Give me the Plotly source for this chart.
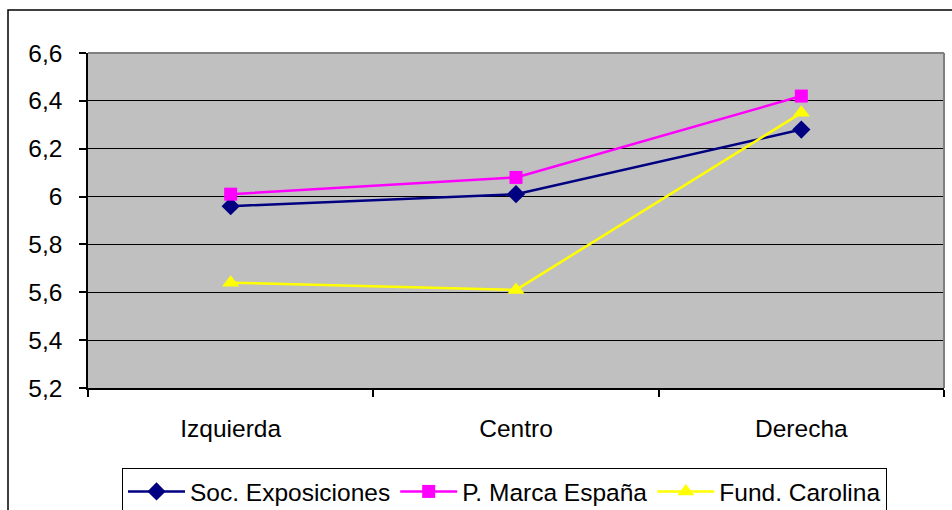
import plotly.graph_objects as go

categories = ["Izquierda", "Centro", "Derecha"]
soc_exposiciones = [5.96, 6.01, 6.28]
p_marca_espana = [6.01, 6.08, 6.42]
fund_carolina = [5.64, 5.61, 6.35]
y_ticks = [5.2, 5.4, 5.6, 5.8, 6.0, 6.2, 6.4, 6.6]

FONT = "Liberation Sans, Arial, sans-serif"
FS = 24.5

fig = go.Figure()
fig.add_trace(go.Scatter(
    x=categories, y=soc_exposiciones, name="Soc. Exposiciones", mode="lines+markers",
    line=dict(color="#000080", width=2.5),
    marker=dict(symbol="diamond", size=14, color="#000080")))
fig.add_trace(go.Scatter(
    x=categories, y=p_marca_espana, name="P. Marca España", mode="lines+markers",
    line=dict(color="#FF00FF", width=2.5),
    marker=dict(symbol="square", size=13, color="#FF00FF")))
fig.add_trace(go.Scatter(
    x=categories, y=fund_carolina, name="Fund. Carolina", mode="lines+markers",
    line=dict(color="#FFFF00", width=2.5),
    marker=dict(symbol="triangle-up", size=15, color="#FFFF00")))

L, R, T, B = 88, 8, 53, 122
W, H = 952, 510
pw, ph = W - L - R, H - T - B

def px_x(p):
    return (p - L) / pw

def px_y(p):
    return (H - B - p) / ph

fig.update_layout(
    width=W, height=H,
    margin=dict(l=L, r=R, t=T, b=B, pad=0, autoexpand=False),
    paper_bgcolor="white", plot_bgcolor="#C0C0C0",
    separators=",.",
    font=dict(family=FONT, size=FS, color="black"),
    showlegend=True,
    legend=dict(
        orientation="h", xref="container", yref="container",
        x=122 / W, y=1 - 468 / H, xanchor="left", yanchor="top",
        bordercolor="black", borderwidth=1, bgcolor="white",
        font=dict(family=FONT, size=FS, color="black"),
        itemwidth=57, tracegroupgap=0,
    ),
    xaxis=dict(
        type="category", range=[-0.5, 2.5], tickson="boundaries",
        ticks="outside", ticklen=7, tickwidth=1.5, tickcolor="black",
        showline=True, linecolor="black", linewidth=2,
        showgrid=False, zeroline=False, ticklabelstandoff=18,
        tickfont=dict(family=FONT, size=FS, color="black"),
    ),
    yaxis=dict(
        range=[5.2, 6.6], tickvals=y_ticks,
        ticks="outside", ticklen=7, tickwidth=1.5, tickcolor="black",
        showline=True, linecolor="black", linewidth=1.5,
        showgrid=True, gridcolor="black", gridwidth=1, zeroline=False,
        ticklabelstandoff=12,
        tickfont=dict(family=FONT, size=FS, color="black"),
    ),
    shapes=[
        dict(type="line", xref="paper", yref="paper", x0=0, x1=1, y0=1, y1=1,
             line=dict(color="#808080", width=2), layer="above"),
        dict(type="line", xref="paper", yref="paper", x0=1, x1=1, y0=0, y1=1,
             line=dict(color="#808080", width=2), layer="above"),
        dict(type="rect", xref="paper", yref="paper",
             x0=px_x(8), x1=px_x(1000), y0=px_y(560), y1=px_y(10),
             line=dict(color="black", width=1.5), fillcolor="rgba(0,0,0,0)", layer="below"),
    ],
)

fig.write_html(
    "out.html",
    config={"displayModeBar": False},
    post_script="document.body.style.margin='0';document.body.style.overflow='hidden';",
)
